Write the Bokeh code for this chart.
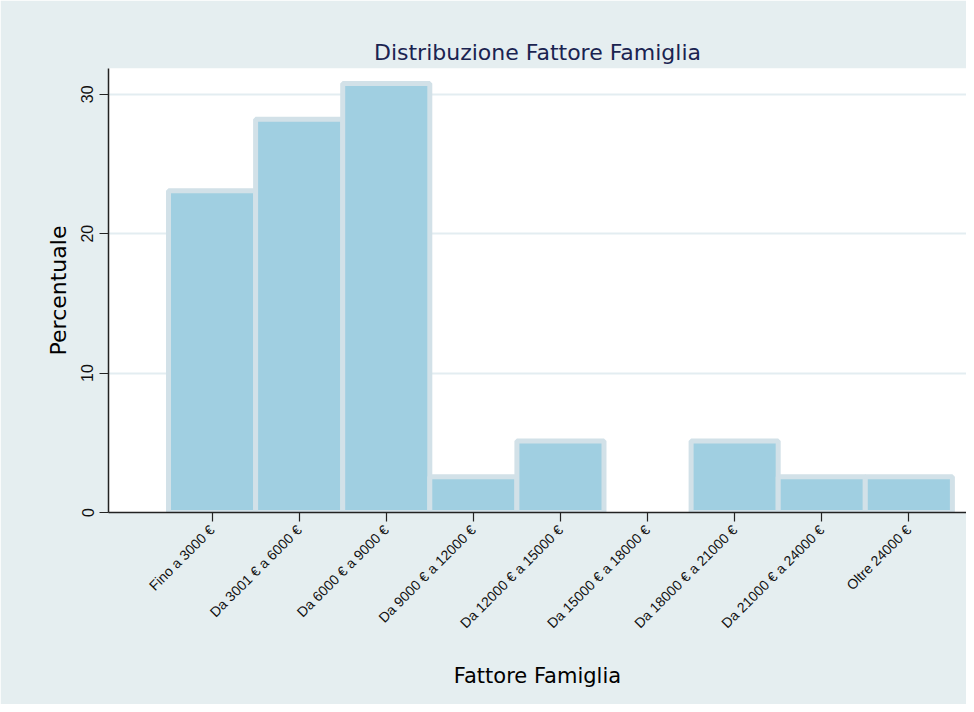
from bokeh.plotting import figure
from bokeh.models import ColumnDataSource, Range1d, FixedTicker
from bokeh.embed import file_html
from bokeh.resources import INLINE
import math

categories = ["Fino a 3000 €", "Da 3001 € a 6000 €", "Da 6000 € a 9000 €",
              "Da 9000 € a 12000 €", "Da 12000 € a 15000 €", "Da 15000 € a 18000 €",
              "Da 18000 € a 21000 €", "Da 21000 € a 24000 €", "Oltre 24000 €"]
percent = [23.08, 28.21, 30.77, 2.56, 5.13, 0.0, 5.13, 2.56, 2.56]
y_ticks = [0, 10, 20, 30]

xpos = list(range(len(categories)))
src = ColumnDataSource(dict(
    x=xpos, top=percent,
    line_alpha=[0.0 if v == 0 else 1.0 for v in percent],
))

p = figure(width=966, height=704, output_backend="svg", toolbar_location=None,
           x_range=Range1d(-1.189, 8.662), y_range=Range1d(0, 31.85),
           min_border_left=108, min_border_right=0, min_border_top=68,
           min_border_bottom=192)

p.background_fill_color = "white"
p.border_fill_color = "#e5eef0"
p.outline_line_color = None

p.vbar(x="x", top="top", bottom=0, width=1.0, source=src,
       fill_color="#a0cfe1", line_color="#d2e1e8", line_width=5,
       line_alpha="line_alpha")

p.title.text = "Distribuzione Fattore Famiglia"
p.title.align = "center"
p.title.text_font = "DejaVu Sans"
p.title.text_font_size = "22px"
p.title.text_font_style = "normal"
p.title.text_color = "#1a2350"
p.title.standoff = 8

p.xgrid.grid_line_color = None
p.ygrid.grid_line_color = "#e3edf1"
p.ygrid.grid_line_width = 2
p.ygrid.ticker = FixedTicker(ticks=y_ticks)

p.xaxis.ticker = FixedTicker(ticks=xpos)
p.xaxis.major_label_overrides = {i: c for i, c in zip(xpos, categories)}
p.xaxis.major_label_orientation = math.pi / 4
p.xaxis.major_label_text_font = "Liberation Sans"
p.xaxis.major_label_text_font_size = "14px"
p.xaxis.axis_label = "Fattore Famiglia"
p.xaxis.axis_label_text_font = "DejaVu Sans"
p.xaxis.axis_label_text_font_size = "21px"
p.xaxis.axis_label_text_font_style = "normal"
p.xaxis.axis_label_standoff = 24

p.yaxis.ticker = FixedTicker(ticks=y_ticks)
p.yaxis.major_label_orientation = "vertical"
p.yaxis.major_label_text_font = "Liberation Sans"
p.yaxis.major_label_text_font_size = "16px"
p.yaxis.axis_label = "Percentuale"
p.yaxis.axis_label_text_font = "DejaVu Sans"
p.yaxis.axis_label_text_font_size = "22px"
p.yaxis.axis_label_text_font_style = "normal"
p.yaxis.axis_label_standoff = 8

for ax in (p.xaxis, p.yaxis):
    ax.axis_line_color = "#222222"
    ax.axis_line_width = 1.5
    ax.major_tick_line_color = "#222222"
    ax.major_tick_line_width = 1.2
    ax.major_tick_out = 9
    ax.major_tick_in = 0
    ax.minor_tick_line_color = None
    ax.major_label_text_color = "#111111"
    ax.axis_label_text_color = "#000000"
    ax.major_label_standoff = 6

open("out.html", "w").write(file_html(p, INLINE))
